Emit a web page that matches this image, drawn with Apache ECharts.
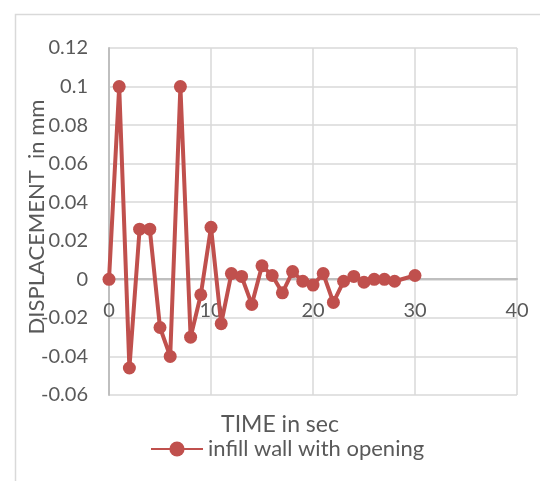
<!DOCTYPE html>
<html>
<head>
<meta charset="utf-8">
<script src="https://cdn.jsdelivr.net/npm/echarts@6/dist/echarts.min.js"></script>
<style>
  html, body { margin: 0; padding: 0; background: #fff; }
  #chart { width: 540px; height: 481px; }
</style>
</head>
<body>
<div id="chart"></div>
<script>
// time (sec) and displacement (mm)
const timeSec = [0, 1, 2, 3, 4, 5, 6, 7, 8, 9, 10, 11, 12, 13, 14, 15, 16, 17, 18, 19, 20, 21, 22, 23, 24, 25, 26, 27, 28, 30]
const displacement = [0, 0.1, -0.046, 0.026, 0.026, -0.025, -0.04, 0.1, -0.03, -0.008, 0.027, -0.023, 0.003, 0.0015, -0.013, 0.007, 0.002, -0.007, 0.004, -0.001, -0.003, 0.003, -0.012, -0.001, 0.0015, -0.0015, 0, 0, -0.001, 0.002]
const seriesName = 'infill wall with opening'
const xTicks = [0, 10, 20, 30, 40]
const yTicks = [-0.06, -0.04, -0.02, 0, 0.02, 0.04, 0.06, 0.08, 0.1, 0.12]

const textColor = '#595959'
const lineColor = '#c0504d'
const font = 'Lato, "Open Sans", sans-serif'

const chart = echarts.init(document.getElementById('chart'))

const option = {
  animation: false,
  textStyle: { fontFamily: font },
  graphic: [
    {
      type: 'rect',
      shape: { x: 15.5, y: 14.5, width: 700, height: 700 },
      style: { fill: 'none', stroke: '#d9d9d9', lineWidth: 1.5 }
    },
    {
      type: 'text',
      x: 280,
      y: 425,
      style: { text: 'TIME in sec', fill: textColor, font: '23px ' + font, align: 'center', verticalAlign: 'middle' }
    },
    {
      type: 'text',
      x: 37,
      y: 217,
      rotation: Math.PI / 2,
      z: 10,
      style: { text: 'DISPLACEMENT  in mm', fill: textColor, font: '22px ' + font, align: 'center', verticalAlign: 'middle' }
    }
  ],
  legend: {
    left: 145,
    top: 433,
    itemWidth: 52,
    itemHeight: 19,
    itemGap: 8,
    textStyle: { color: textColor, fontSize: 22, fontFamily: font },
    data: [seriesName]
  },
  grid: { left: 109, right: 23, top: 48, height: 347 },
  xAxis: {
    type: 'value',
    min: xTicks[0],
    max: xTicks[xTicks.length - 1],
    interval: 10,
    offset: -116,
    axisLine: { onZero: false, lineStyle: { color: '#bfbfbf', width: 2 } },
    axisTick: { show: false },
    axisLabel: { color: textColor, fontSize: 20, margin: 22 },
    splitLine: { lineStyle: { color: '#d9d9d9', width: 1.5 } }
  },
  yAxis: {
    type: 'value',
    min: yTicks[0],
    max: yTicks[yTicks.length - 1],
    interval: 0.02,
    axisLine: { show: true, lineStyle: { color: '#bfbfbf', width: 2 } },
    axisTick: { show: false },
    axisLabel: { color: textColor, fontSize: 20, margin: 21 },
    splitLine: { lineStyle: { color: '#d9d9d9', width: 1.5 } }
  },
  series: [
    {
      name: seriesName,
      type: 'line',
      data: timeSec.map((t, i) => [t, displacement[i]]),
      symbol: 'circle',
      symbolSize: 13,
      lineStyle: { color: lineColor, width: 4 },
      itemStyle: { color: lineColor }
    }
  ]
}

chart.setOption(option)
</script>
</body>
</html>
